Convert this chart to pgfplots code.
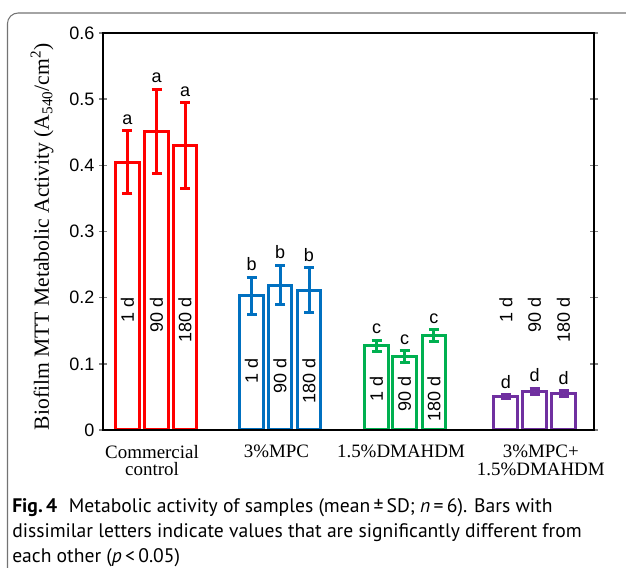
\documentclass[border=0pt]{standalone}
\usepackage{pgfplots}
\pgfplotsset{compat=1.18}
\usepackage{fontspec}
\setmainfont{Liberation Serif}
\newfontfamily\arial{Liberation Sans}
\newfontfamily\capfont{PT Sans}
\definecolor{cred}{RGB}{255,0,0}
\definecolor{cblue}{RGB}{0,112,192}
\definecolor{cgreen}{RGB}{0,176,80}
\definecolor{cpurple}{RGB}{112,48,160}
\begin{document}
\begin{tikzpicture}
\path[use as bounding box] (0,0) rectangle (469.5pt,426pt);
\draw[black!55, line width=0.8pt, rounded corners=8pt] (469.5pt,416.25pt) -- (5.6pt,416.25pt) -- (5.6pt,-2pt);
\begin{axis}[
  at={(77.25pt,103.5pt)}, anchor=south west, scale only axis,
  width=368.25pt, height=297.75pt,
  xmin=-0.425, xmax=3.472, ymin=0, ymax=0.6,
  ytick={0,0.1,0.2,0.3,0.4,0.5,0.6},
  xtick={-0.036,0.952,1.94,3.05},
  xticklabels={{Commercial\\control},{3\%MPC},{1.5\%DMAHDM},{3\%MPC+\\1.5\%DMAHDM}},
  xticklabel style={font=\fontsize{14.2}{12.9}\selectfont, align=center, anchor=north, yshift=-2pt},
  xtick style={draw=none},
  yticklabel style={font=\arial\fontsize{13.5}{15}\selectfont},
  /pgf/number format/assume math mode=true,
  ytick style={line width=1.2pt}, major tick length=6pt, tick align=center,
  axis line style={line width=1.5pt},
  axis on top,
  ylabel={Biofilm MTT Metabolic Activity (A\textsubscript{540}/cm\textsuperscript{2})},
  ylabel style={font=\fontsize{16.2}{18}\selectfont, at={(axis description cs:-0.124,0.487)}, anchor=center},
  ybar, bar width=0.19, bar shift=0pt,
  every axis plot/.append style={fill=white, line width=2.25pt},
  error bars/error bar style={line width=2.25pt},
  error bars/error mark options={line width=2.25pt, mark size=3.75pt, rotate=90},
]
\addplot[color=cred, fill=white, error bars/.cd, y dir=both, y explicit] coordinates {
  (-0.231,0.405) +- (0,0.047)
  (0.0,0.451) +- (0,0.064)
  (0.226,0.430) +- (0,0.065)
};
\addplot[color=cblue, fill=white, error bars/.cd, y dir=both, y explicit] coordinates {
  (0.754,0.203) +- (0,0.028)
  (0.980,0.219) +- (0,0.030)
  (1.210,0.211) +- (0,0.034)
};
\addplot[color=cgreen, fill=white, error bars/.cd, y dir=both, y explicit] coordinates {
  (1.746,0.127) +- (0,0.009)
  (1.968,0.111) +- (0,0.009)
  (2.202,0.1425) +- (0,0.009)
};
\addplot[color=cpurple, fill=white, error bars/.cd, y dir=both, y explicit] coordinates {
  (2.773,0.050) +- (0,0.003)
  (3.000,0.058) +- (0,0.005)
  (3.230,0.055) +- (0,0.004)
};
% significance letters
\begin{scope}[every node/.style={font=\arial\fontsize{13.5}{15}\selectfont, text=black, anchor=south, inner sep=0pt, yshift=4.5pt}]
\node at (axis cs:-0.231,0.452) {a};
\node at (axis cs:0.0,0.515) {a};
\node at (axis cs:0.226,0.495) {a};
\node at (axis cs:0.754,0.231) {b};
\node at (axis cs:0.980,0.249) {b};
\node at (axis cs:1.210,0.245) {b};
\node at (axis cs:1.746,0.136) {c};
\node at (axis cs:1.968,0.120) {c};
\node at (axis cs:2.202,0.1515) {c};
\node at (axis cs:2.773,0.053) {d};
\node at (axis cs:3.000,0.063) {d};
\node at (axis cs:3.230,0.059) {d};
\end{scope}
% day labels
\begin{scope}[every node/.style={font=\arial\fontsize{13.5}{15}\selectfont, text=black, rotate=90, anchor=east, inner sep=0pt}]
\node at (axis cs:-0.231,0.201) {1 d};
\node at (axis cs:0.0,0.201) {90 d};
\node at (axis cs:0.226,0.201) {180 d};
\node at (axis cs:0.754,0.109) {1 d};
\node at (axis cs:0.980,0.109) {90 d};
\node at (axis cs:1.210,0.109) {180 d};
\node at (axis cs:1.746,0.082) {1 d};
\node at (axis cs:1.968,0.082) {90 d};
\node at (axis cs:2.202,0.082) {180 d};
\node at (axis cs:2.773,0.201) {1 d};
\node at (axis cs:3.000,0.201) {90 d};
\node at (axis cs:3.230,0.201) {180 d};
\end{scope}
\end{axis}
\begin{scope}[every node/.style={font=\capfont\fontsize{14.7}{17}\selectfont, anchor=base west, inner sep=0pt}]
\node at (9pt,41.25pt) {\textbf{Fig.\,4}\hspace{0.6em}Metabolic activity of samples (mean\,±\,SD; \textit{n}\,=\,6). Bars with};
\node at (9pt,22.5pt) {dissimilar letters indicate values that are significantly different from};
\node at (9pt,3.75pt) {each other (\textit{p}\,<\,0.05)};
\end{scope}
\end{tikzpicture}
\end{document}
